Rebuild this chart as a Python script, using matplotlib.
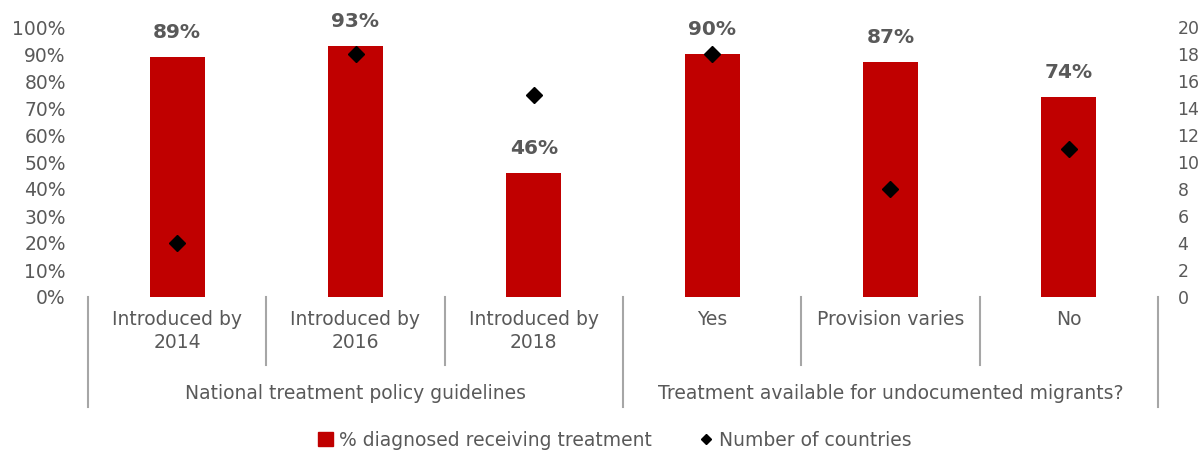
import matplotlib
matplotlib.use('Agg')
import matplotlib.pyplot as plt
import matplotlib.transforms as mtransforms
from matplotlib.lines import Line2D
from matplotlib.patches import Patch

matplotlib.rcParams['font.family'] = 'DejaVu Sans'

categories = ['Introduced by\n2014', 'Introduced by\n2016', 'Introduced by\n2018',
              'Yes', 'Provision varies', 'No']
groups = ['National treatment policy guidelines',
          'Treatment available for undocumented migrants?']
group_sizes = [3, 3]
pct_treated = [89, 93, 46, 90, 87, 74]
n_countries = [4, 18, 15, 18, 8, 11]

RED = '#C00000'
GREY = '#595959'
LINE = '#A6A6A6'

fig = plt.figure(figsize=(12.01, 4.51), dpi=100)
W, H = 1201, 451
ax = fig.add_axes([88 / W, 1 - 297 / H, (1158 - 88) / W, (297 - 27) / H])
ax2 = ax.twinx()

x = list(range(len(categories)))
ax.bar(x, pct_treated, width=0.31, color=RED, zorder=2)
for xi, v in zip(x, pct_treated):
    ax.text(xi, v + 5.5, '{}%'.format(v), ha='center', va='bottom',
            fontsize=14.5, fontweight='bold', color=GREY)

ax2.plot(x, n_countries, linestyle='none', marker='D', markersize=8.5,
         color='black', zorder=3)

ax.set_xlim(-0.5, len(categories) - 0.5)
ax.set_ylim(0, 100)
ax2.set_ylim(0, 20)
ax.set_yticks(range(0, 101, 10))
ax.set_yticklabels(['{}%'.format(t) for t in range(0, 101, 10)])
ax2.set_yticks(range(0, 21, 2))
ax.tick_params(axis='y', length=0, pad=16, labelsize=13.5, labelcolor=GREY)
ax2.tick_params(axis='y', length=0, pad=14, labelsize=12.5, labelcolor=GREY)
ax.set_xticks([])
for a in (ax, ax2):
    for s in a.spines.values():
        s.set_visible(False)

# two-level category axis below the plot
trans = mtransforms.blended_transform_factory(ax.transData, ax.transAxes)
bounds = [-0.5]
for g in group_sizes:
    bounds.append(bounds[-1] + g)
for b in [i - 0.5 for i in range(len(categories) + 1)]:
    y_end = -0.407 if b in bounds else -0.252
    ax.add_line(Line2D([b, b], [0, y_end], transform=trans, color=LINE,
                       linewidth=1.5, clip_on=False))
for xi, lab in zip(x, categories):
    ax.text(xi, -0.048, lab, transform=trans, ha='center', va='top',
            fontsize=13.5, color=GREY, linespacing=1.25)
for i, g in enumerate(groups):
    mid = (bounds[i] + bounds[i + 1]) / 2
    ax.text(mid, -0.356, g, transform=trans, ha='center', va='center',
            fontsize=13.5, color=GREY)

handles = [Patch(facecolor=RED, edgecolor=RED),
           Line2D([], [], linestyle='none', marker='D', markersize=5, color='black')]
fig.legend(handles, ['% diagnosed receiving treatment', 'Number of countries'],
           loc='center', bbox_to_anchor=(0.512, 11 / H), ncol=2, frameon=False,
           fontsize=13.5, labelcolor=GREY, handlelength=0.8, handleheight=0.8,
           handletextpad=0.3, columnspacing=2.5)

fig.savefig('out.png', dpi=100)
